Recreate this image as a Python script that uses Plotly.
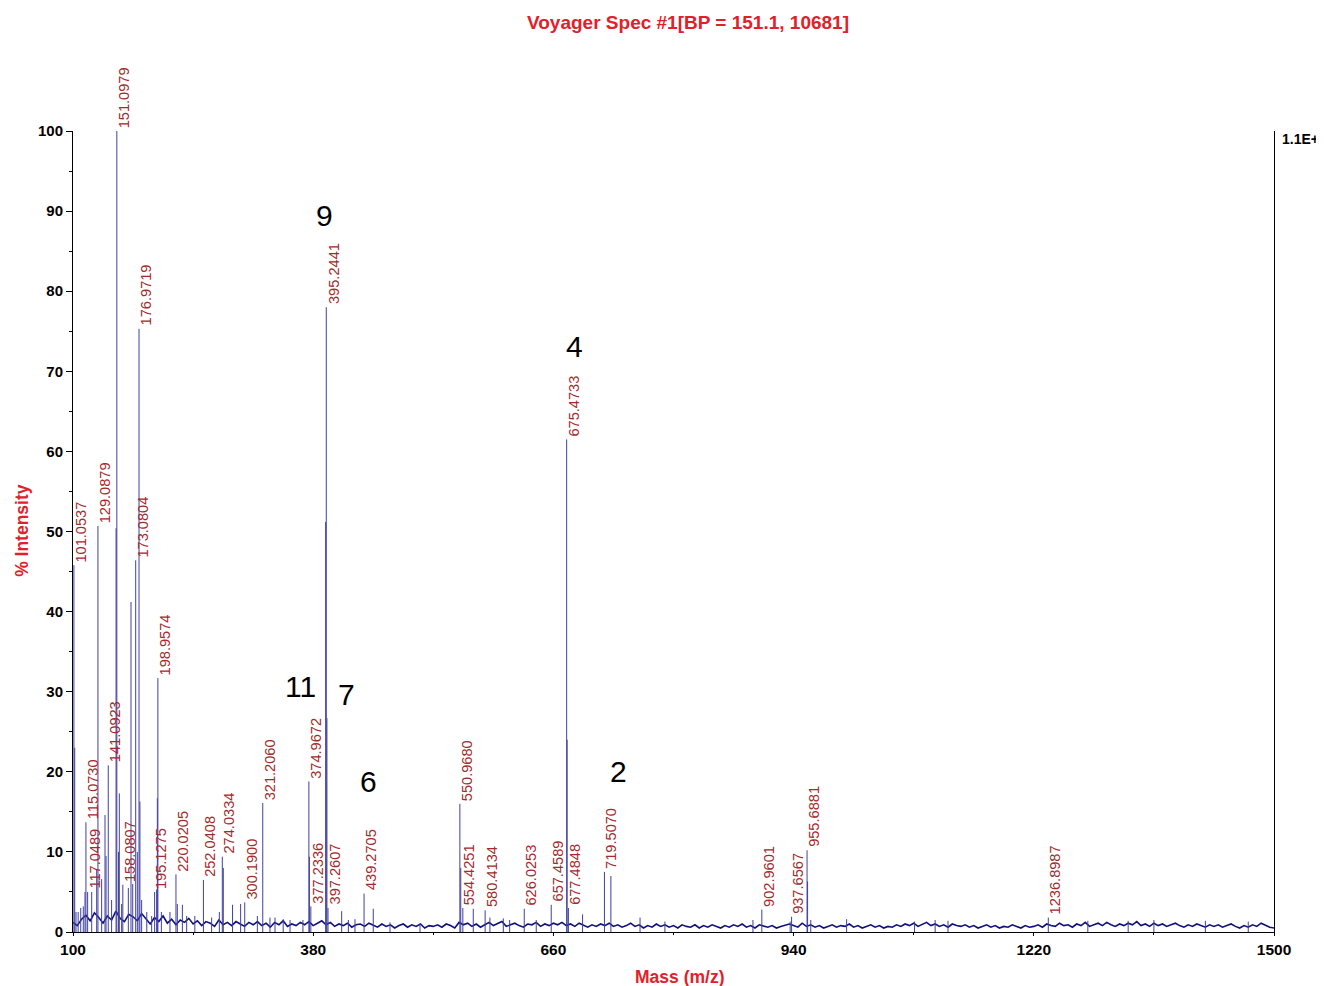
import plotly.graph_objects as go

# ---------------- data ----------------
title_text = "Voyager Spec #1[BP = 151.1, 10681]"
x_title = "Mass (m/z)"
y_title = "% Intensity"
right_axis_text = "1.1E+"

x_tick_vals = [100, 380, 660, 940, 1220, 1500]
y_tick_vals = [0, 10, 20, 30, 40, 50, 60, 70, 80, 90, 100]

# labelled peaks (m/z, % intensity)
label_mz = [101.0537, 115.0730, 117.0489, 129.0879, 141.0923, 151.0979, 158.0807,
            173.0804, 176.9719, 195.1275, 198.9574, 220.0205, 252.0408, 274.0334,
            300.1900, 321.2060, 374.9672, 377.2336, 395.2441, 397.2607, 439.2705,
            550.9680, 554.4251, 580.4134, 626.0253, 657.4589, 675.4733, 677.4848,
            719.5070, 902.9601, 937.6567, 955.6881, 1236.8987]
label_int = [45.8, 13.7, 5.0, 50.7, 20.8, 100.0, 5.9,
             46.4, 75.3, 5.0, 31.7, 7.2, 6.5, 9.4,
             3.7, 16.1, 18.8, 3.2, 78.0, 3.0, 4.8,
             16.0, 3.0, 2.7, 2.9, 3.4, 61.5, 3.0,
             7.5, 2.8, 1.9, 10.2, 1.8]

# unlabelled peaks
minor_mz = [102.0, 103.5, 106.0, 109.0, 112.0, 114.0, 121.8, 127.6, 133.4, 137.3,
            138.5, 145.0, 150.2, 153.0, 154.0, 156.7, 164.5, 167.6, 169.6, 175.0,
            178.0, 180.0, 186.0, 191.7, 197.5, 198.3, 203.0, 213.0, 221.6, 227.5,
            232.5, 242.0, 261.6, 270.6, 275.2, 286.0, 295.4, 314.9, 329.6, 335.5,
            345.0, 353.0, 368.0, 375.6, 394.5, 396.0, 413.2, 421.0, 428.7, 450.0,
            469.5, 504.5, 552.0, 566.6, 586.0, 601.6, 609.0, 640.0, 676.0, 694.0,
            727.0, 761.0, 790.0, 892.6, 936.0, 956.3, 960.0, 1001.8, 1081.0, 1105.0,
            1120.0, 1283.0, 1330.0, 1360.0, 1420.0, 1470.0]
minor_int = [23.0, 2.5, 2.5, 3.0, 3.2, 5.0, 5.0, 7.8, 6.6, 14.6,
             9.5, 4.0, 50.4, 10.0, 17.3, 3.5, 5.5, 41.2, 6.0, 10.0,
             16.3, 4.0, 2.5, 2.0, 5.3, 16.7, 2.5, 2.5, 3.5, 3.4,
             2.0, 2.0, 1.8, 2.5, 8.0, 3.4, 3.5, 2.0, 1.8, 1.8,
             1.6, 1.5, 1.5, 9.4, 51.2, 26.7, 2.6, 1.5, 1.6, 2.9,
             1.2, 1.0, 8.0, 2.9, 1.8, 1.7, 1.5, 1.5, 24.0, 2.2,
             7.0, 1.8, 1.3, 1.5, 1.3, 6.3, 1.5, 1.6, 1.3, 1.5,
             1.4, 1.4, 1.4, 1.5, 1.4, 1.3]

# baseline noise, read every 5 m/z from 100 to 1500
noise_mz = list(range(100, 1501, 5))
noise_int = [
    1.2, 0.8, 1.6, 2.1, 1.4, 2.4, 1.8, 1.1, 2.0, 1.5, 2.6, 1.7, 1.3, 2.2,
    1.9, 1.4, 2.3, 1.6, 1.0, 1.8, 1.3, 2.0, 1.1, 1.6, 0.9, 1.5, 1.2, 1.7,
    1.0, 1.4, 0.8, 1.3, 1.1, 0.7, 1.5, 0.9, 1.2, 0.8, 1.3, 1.0, 0.7, 1.2,
    0.9, 1.3, 0.8, 1.1, 0.6, 1.2, 0.9, 1.4, 0.7, 1.0, 0.8, 1.2, 0.9, 1.3,
    0.8, 1.1, 1.4, 0.9, 1.2, 0.7, 1.0, 0.8, 1.1, 0.6, 0.9, 1.0, 0.7, 1.1,
    0.8, 0.6, 1.0, 0.7, 0.9, 0.5, 0.8, 1.0, 0.6, 0.9, 0.7, 1.0, 0.5, 0.8,
    0.7, 0.9, 0.6, 1.0, 0.8, 0.5, 1.2, 0.9, 1.1, 0.7, 1.0, 0.6, 0.9, 1.2,
    0.8, 1.0, 1.3, 0.7, 0.9, 1.1, 0.8, 0.6, 1.0, 0.9, 1.2, 0.7, 1.0, 0.8,
    1.1, 0.9, 1.2, 0.8, 1.0, 0.7, 1.1, 0.8, 0.6, 0.9, 0.7, 1.0, 0.8, 1.1,
    0.7, 0.9, 0.6, 0.8, 1.1, 0.7, 0.9, 0.5, 0.8, 0.6, 1.0, 0.7, 0.9, 0.6,
    0.8, 0.5, 0.9, 0.7, 0.6, 0.9, 0.5, 0.8, 0.6, 0.9, 0.7, 0.5, 0.8, 0.6,
    0.9, 0.7, 1.0, 0.6, 0.8, 0.5, 0.9, 0.7, 0.6, 0.8, 0.5, 0.7, 0.9, 1.0,
    0.8, 0.6, 1.1, 0.7, 0.9, 0.6, 0.8, 0.5, 0.7, 0.9, 0.6, 0.8, 0.7, 1.0,
    0.6, 0.8, 0.5, 0.7, 0.9, 0.6, 0.8, 0.5, 0.7, 0.6, 0.9, 0.7, 1.0, 0.8,
    1.1, 0.7, 0.9, 1.2, 0.8, 1.0, 0.7, 0.9, 0.6, 1.0, 0.8, 0.7, 0.9, 0.6,
    0.8, 0.5, 0.7, 0.9, 0.6, 0.8, 0.5, 0.7, 0.6, 0.9, 0.7, 0.5, 0.8, 0.6,
    0.7, 0.9, 0.6, 1.0, 0.8, 0.7, 1.1, 0.8, 0.9, 0.6, 1.0, 0.8, 1.2, 0.7,
    0.9, 1.1, 0.8, 1.2, 0.9, 0.7, 1.0, 0.8, 1.1, 0.9, 1.3, 0.8, 1.0, 0.7,
    1.1, 0.8, 1.0, 0.7, 0.9, 1.1, 0.8, 0.6, 0.9, 0.7, 1.0, 0.8, 0.6, 0.9,
    0.7, 0.9, 0.6, 0.8, 1.0, 0.7, 0.5, 0.8, 0.6, 0.9, 0.7, 1.1, 0.8, 0.6,
    0.5,
]

# compound numbers and the peak each sits over
compound_text = ["9", "4", "11", "7", "6", "2"]
compound_peak = [395.2441, 675.4733, 374.9672, 397.2607, 439.2705, 719.5070]

# ---------------- styles ----------------
FONT = "Liberation Sans, Arial, sans-serif"
RED = "#e3202a"
LABEL_RED = "#a32a2a"
LINE = "#4040a0"
BASE = "#10107a"

# stick spectrum built from peak arrays
all_mz = label_mz + minor_mz
all_int = label_int + minor_int
sx, sy = [], []
for m, h in zip(all_mz, all_int):
    sx += [m, m, None]
    sy += [0, h, None]

fig = go.Figure()
fig.add_trace(go.Scatter(x=noise_mz, y=noise_int, mode="lines",
                         line=dict(color=BASE, width=1.6), hoverinfo="skip",
                         showlegend=False))
fig.add_trace(go.Scatter(x=sx, y=sy, mode="lines",
                         line=dict(color=LINE, width=1), hoverinfo="skip",
                         showlegend=False))

annotations = []
for m, h in zip(label_mz, label_int):
    annotations.append(dict(
        x=m, y=h, xref="x", yref="y", text=f"{m:.4f}", showarrow=False,
        textangle=-90, xanchor="center", yanchor="bottom", xshift=7, yshift=1,
        font=dict(family=FONT, size=14.6, color=LABEL_RED)))

peak_lookup = dict(zip(label_mz, label_int))
compound_offsets = [(-2, 92), (8, 93), (-8, 95), (18, 213), (4, 112), (14, 100)]
for t, m, (dx, dy) in zip(compound_text, compound_peak, compound_offsets):
    annotations.append(dict(
        x=m, y=peak_lookup[m], xref="x", yref="y", text=t, showarrow=False,
        xanchor="center", yanchor="middle", xshift=dx, yshift=dy,
        font=dict(family=FONT, size=30, color="black")))

# axis titles / right label
annotations.append(dict(
    x=-0.0425, y=0.502, xref="paper", yref="paper", text=y_title, showarrow=False,
    textangle=-90, xanchor="center", yanchor="middle",
    font=dict(family=FONT, size=17.5, color=RED, weight="bold")))
annotations.append(dict(
    x=0.505, y=-0.056, xref="paper", yref="paper", text=x_title, showarrow=False,
    xanchor="center", yanchor="middle",
    font=dict(family=FONT, size=17.5, color=RED, weight="bold")))
annotations.append(dict(
    x=1.005, y=0.99, xref="paper", yref="paper", text=right_axis_text,
    showarrow=False, xanchor="left", yanchor="middle",
    font=dict(family=FONT, size=14, color="black", weight="bold")))

# the page body adds an 8 px margin, so the figure is 8 px smaller on each side
fig.update_layout(
    width=1316, height=978,
    margin=dict(l=65, r=50, t=123, b=54),
    paper_bgcolor="white", plot_bgcolor="white",
    title=dict(text=title_text, x=680 / 1316, xanchor="center", y=1 - 14 / 978,
               yanchor="middle", yref="container", xref="container",
               font=dict(family=FONT, size=19, color=RED, weight="bold")),
    annotations=annotations,
    xaxis=dict(range=[100, 1500], tickvals=x_tick_vals, showgrid=False,
               zeroline=False, showline=True, linecolor="black", linewidth=1,
               ticks="outside", ticklen=3, tickcolor="black",
               minor=dict(dtick=140, tick0=100, ticks="outside", ticklen=2,
                          tickcolor="black"),
               tickfont=dict(family=FONT, size=15.5, color="black", weight="bold")),
    yaxis=dict(range=[0, 100], tickvals=y_tick_vals, showgrid=False,
               zeroline=False, showline=True, linecolor="black", linewidth=1,
               mirror=True, ticks="outside", ticklen=6, tickcolor="black",
               minor=dict(dtick=5, tick0=0, ticks="outside", ticklen=3,
                          tickcolor="black"),
               tickfont=dict(family=FONT, size=15, color="black", weight="bold")),
)

fig.write_html("out.html")
